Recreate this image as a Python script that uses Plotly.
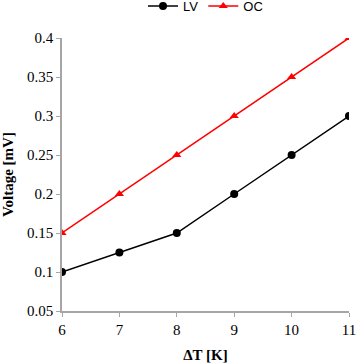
import plotly.graph_objects as go

# Temperature difference [K]
dt = [6, 7, 8, 9, 10, 11]
# Voltage readings [mV]
lv = [0.1, 0.125, 0.15, 0.2, 0.25, 0.3]
oc = [0.15, 0.2, 0.25, 0.3, 0.35, 0.4]

serif = "Liberation Serif"

fig = go.Figure()
fig.add_trace(go.Scatter(x=dt, y=lv, name="LV", mode="lines+markers",
                         line=dict(color="black", width=1.5),
                         marker=dict(symbol="circle", size=8, color="black")))
fig.add_trace(go.Scatter(x=dt, y=oc, name="OC", mode="lines+markers",
                         line=dict(color="red", width=1.5),
                         marker=dict(symbol="triangle-up", size=8, color="red")))

axis_style = dict(showgrid=False, zeroline=False, showline=True, linecolor="#a6a6a6",
                  linewidth=1.5, ticks="outside", ticklen=4, tickcolor="#a6a6a6",
                  automargin=False,
                  tickfont=dict(family=serif, size=15, color="black"))

fig.update_layout(
    width=357, height=363,
    margin=dict(l=62, r=8, t=38, b=52),
    paper_bgcolor="white", plot_bgcolor="white",
    legend=dict(orientation="h", x=0.5, xanchor="center", y=0.983, yanchor="middle",
                yref="container", font=dict(family="Liberation Sans", size=13, color="black"),
                itemwidth=30, tracegroupgap=0),
    xaxis=dict(range=[6, 11], dtick=1,
               title=dict(text="<b>ΔT [K]</b>", font=dict(family=serif, size=15, color="black")),
               **axis_style),
    yaxis=dict(range=[0.05, 0.4], dtick=0.05, tickformat="~g",
               title=dict(text="<b>Voltage [mV]</b>", font=dict(family=serif, size=15, color="black")),
               **axis_style),
    showlegend=True,
)

# body margin off so the figure sits at the page's top-left corner
fig.write_html("out.html", config={"displayModeBar": False},
               post_script="document.body.style.margin='0';")
